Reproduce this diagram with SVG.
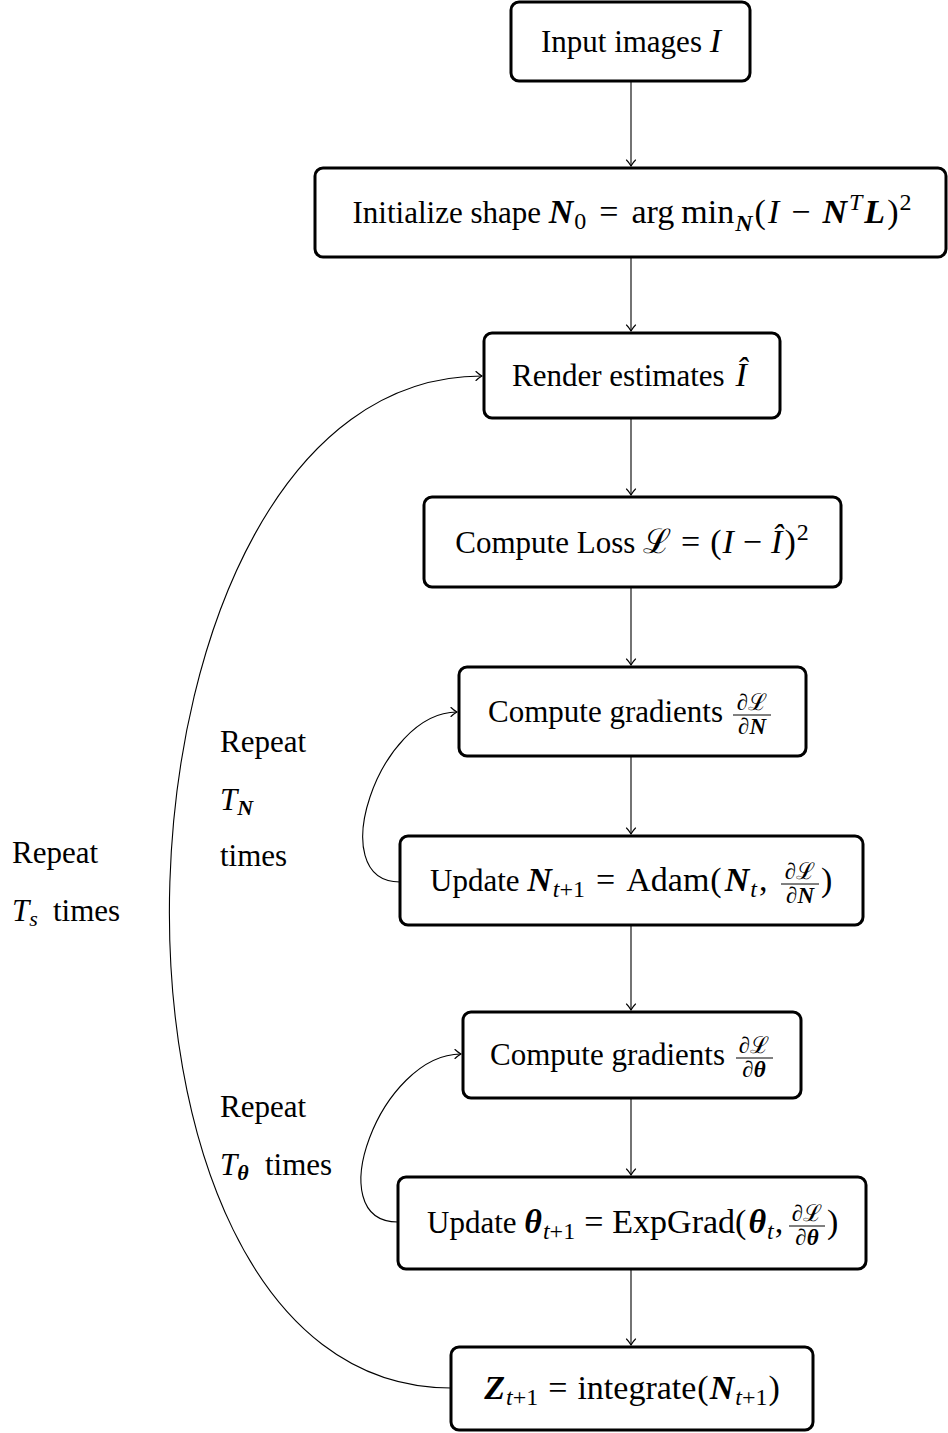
<svg xmlns="http://www.w3.org/2000/svg" width="948" height="1433" viewBox="0 0 948 1433">
<style>
.box{fill:#fff;stroke:#000;stroke-width:3}
.t{font-family:"Liberation Serif","DejaVu Serif",serif;font-size:31px;fill:#000}
.f{font-family:"Liberation Serif","DejaVu Serif",serif;font-size:23px;fill:#000}
.i{font-style:italic}
.b{font-style:italic;font-weight:bold}
.s{font-size:22px}
.m{font-size:34px}
.ms{font-size:24px}
.conn{fill:none;stroke:#000;stroke-width:1.1}
.bar{stroke:#000;stroke-width:1}
</style>
<defs>
<marker id="arr" viewBox="-8 -6 9 12" markerWidth="9" markerHeight="12" refX="0" refY="0" orient="auto" markerUnits="userSpaceOnUse">
<path d="M -6 -4.5 C -4 -2.5 -1.5 -0.8 0 0 C -1.5 0.8 -4 2.5 -6 4.5" fill="none" stroke="#000" stroke-width="1.1" stroke-linecap="round"/>
</marker>
</defs>

<g id="connectors">
<line class="conn" x1="631" y1="82" x2="631" y2="166" marker-end="url(#arr)"/>
<line class="conn" x1="631" y1="258" x2="631" y2="331" marker-end="url(#arr)"/>
<line class="conn" x1="631" y1="419" x2="631" y2="495" marker-end="url(#arr)"/>
<line class="conn" x1="631" y1="588" x2="631" y2="665" marker-end="url(#arr)"/>
<line class="conn" x1="631" y1="757" x2="631" y2="834" marker-end="url(#arr)"/>
<line class="conn" x1="631" y1="926" x2="631" y2="1010" marker-end="url(#arr)"/>
<line class="conn" x1="631" y1="1099" x2="631" y2="1175" marker-end="url(#arr)"/>
<line class="conn" x1="631" y1="1270" x2="631" y2="1345" marker-end="url(#arr)"/>
<path class="conn" d="M 451 1388 C 55 1388, 87 376, 482 376" marker-end="url(#arr)"/>
<path class="conn" d="M 400 882 C 322 882, 379 712, 457 712" marker-end="url(#arr)"/>
<path class="conn" d="M 398 1222 C 318 1222, 381 1054, 461 1054" marker-end="url(#arr)"/>
</g>

<g id="input">
<rect class="box" x="511" y="2" width="239" height="79" rx="8"/>
<text class="t" x="631" y="52" text-anchor="middle">Input images <tspan class="m i">I</tspan></text>
</g>

<g id="init">
<rect class="box" x="315" y="168" width="631" height="89" rx="8"/>
<text class="t" x="632" y="223" text-anchor="middle">Initialize shape <tspan class="m b">N</tspan><tspan class="ms" dx="1" dy="6">0</tspan><tspan class="m" dx="13" dy="-6">=</tspan><tspan class="m" dx="13">arg</tspan><tspan class="m" dx="7">min</tspan><tspan class="ms b" dx="1" dy="8">N</tspan><tspan class="m" dx="2" dy="-8">(</tspan><tspan class="m i" dx="2">I</tspan><tspan class="m" dx="12">−</tspan><tspan class="m b" dx="12">N</tspan><tspan class="ms i" dx="2" dy="-13">T</tspan><tspan class="m b" dx="2" dy="13">L</tspan><tspan class="m" dx="2">)</tspan><tspan class="ms" dx="1" dy="-13">2</tspan></text>
</g>

<g id="render">
<rect class="box" x="484" y="333" width="296" height="85" rx="8"/>
<text class="t" x="512" y="386">Render estimates <tspan class="m i" dx="3">Î</tspan></text>
</g>

<g id="loss">
<rect class="box" x="424" y="497" width="417" height="90" rx="8"/>
<text class="t" x="632" y="553" text-anchor="middle">Compute Loss <tspan class="m">ℒ</tspan><tspan class="m" dx="10">=</tspan><tspan class="m" dx="10">(</tspan><tspan class="m i" dx="1">I</tspan><tspan class="m" dx="9">−</tspan><tspan class="m i" dx="9">Î</tspan><tspan class="m" dx="2">)</tspan><tspan class="ms" dx="1" dy="-13">2</tspan></text>
</g>

<g id="gradN">
<rect class="box" x="459" y="667" width="347" height="89" rx="8"/>
<text class="t" x="488" y="722">Compute gradients</text>
<text class="f" x="752" y="710" text-anchor="middle">∂ℒ</text>
<line class="bar" x1="733" y1="715" x2="771" y2="715"/>
<text class="f" x="752" y="734" text-anchor="middle">∂<tspan class="b">N</tspan></text>
</g>

<g id="updateN">
<rect class="box" x="400" y="836" width="463" height="89" rx="8"/>
<text class="t" x="430" y="891">Update <tspan class="m b">N</tspan><tspan class="ms" dx="1" dy="6"><tspan class="i">t</tspan>+1</tspan><tspan class="m" dx="11" dy="-6">=</tspan><tspan class="m" dx="11">Adam</tspan><tspan class="m" dx="1">(</tspan><tspan class="m b" dx="3">N</tspan><tspan class="ms i" dx="1" dy="6">t</tspan><tspan class="m" dx="2" dy="-6">,</tspan></text>
<text class="f" x="800" y="879" text-anchor="middle">∂ℒ</text>
<line class="bar" x1="781" y1="884" x2="819" y2="884"/>
<text class="f" x="800" y="903" text-anchor="middle">∂<tspan class="b">N</tspan></text>
<text class="t m" x="821" y="891">)</text>
</g>

<g id="gradTheta">
<rect class="box" x="463" y="1012" width="338" height="86" rx="8"/>
<text class="t" x="490" y="1065">Compute gradients</text>
<text class="f" x="754" y="1053" text-anchor="middle">∂ℒ</text>
<line class="bar" x1="736" y1="1058" x2="773" y2="1058"/>
<text class="f" x="754" y="1077" text-anchor="middle">∂<tspan class="b">θ</tspan></text>
</g>

<g id="updateTheta">
<rect class="box" x="398" y="1177" width="468" height="92" rx="8"/>
<text class="t" x="427" y="1233">Update <tspan class="m b">θ</tspan><tspan class="ms" dx="1" dy="6"><tspan class="i">t</tspan>+1</tspan><tspan class="m" dx="9" dy="-6">=</tspan><tspan class="m" dx="9">ExpGrad</tspan><tspan class="m">(</tspan><tspan class="m b" dx="2">θ</tspan><tspan class="ms i" dx="1" dy="6">t</tspan><tspan class="m" dx="1" dy="-6">,</tspan></text>
<text class="f" x="807" y="1221" text-anchor="middle">∂ℒ</text>
<line class="bar" x1="789" y1="1226" x2="825" y2="1226"/>
<text class="f" x="807" y="1245" text-anchor="middle">∂<tspan class="b">θ</tspan></text>
<text class="t m" x="827" y="1233">)</text>
</g>

<g id="integrate">
<rect class="box" x="451" y="1347" width="362" height="83" rx="8"/>
<text class="t" x="632" y="1399" text-anchor="middle"><tspan class="m b">Z</tspan><tspan class="ms" dx="1" dy="6"><tspan class="i">t</tspan>+1</tspan><tspan class="m" dx="10" dy="-6">=</tspan><tspan class="m" dx="10">integrate</tspan><tspan class="m" dx="1">(</tspan><tspan class="m b" dx="1">N</tspan><tspan class="ms" dx="1" dy="6"><tspan class="i">t</tspan>+1</tspan><tspan class="m" dx="1" dy="-6">)</tspan></text>
</g>

<g id="labels">
<text class="t" x="220" y="752">Repeat</text>
<text class="t" x="220" y="810"><tspan class="i">T</tspan><tspan class="s b" dy="5">N</tspan></text>
<text class="t" x="220" y="866">times</text>
<text class="t" x="12" y="863">Repeat</text>
<text class="t" x="12" y="921"><tspan class="i">T</tspan><tspan class="s i" dy="5">s</tspan><tspan x="53" dy="-5">times</tspan></text>
<text class="t" x="220" y="1117">Repeat</text>
<text class="t" x="220" y="1175"><tspan class="i">T</tspan><tspan class="s b" dy="5">θ</tspan><tspan x="265" dy="-5">times</tspan></text>
</g>
</svg>
